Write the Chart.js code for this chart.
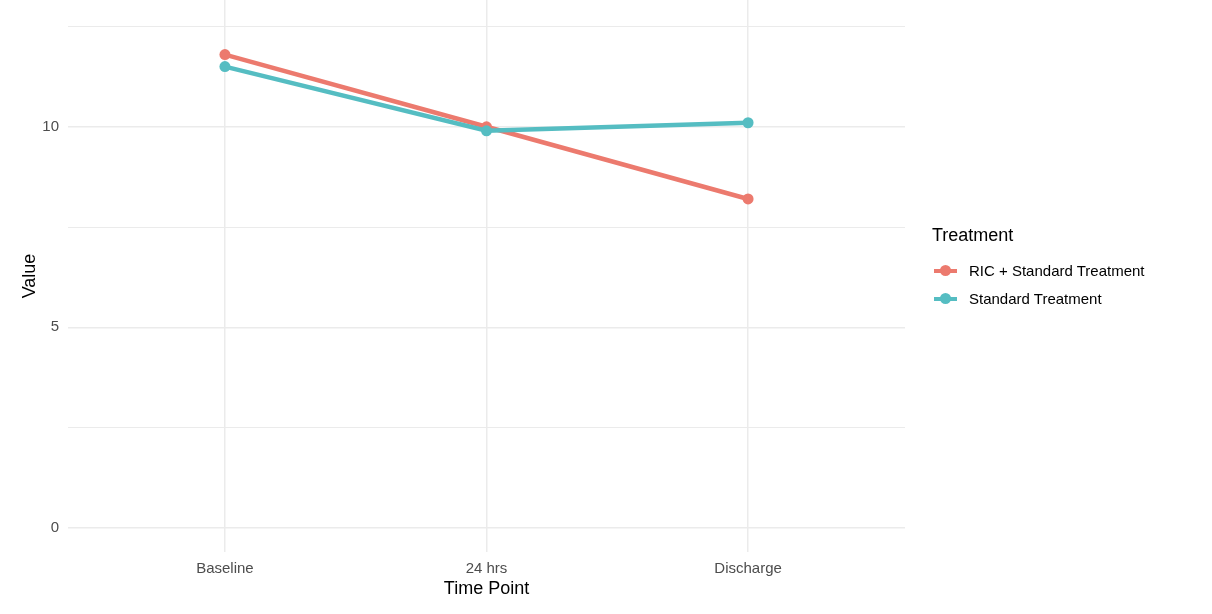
<!DOCTYPE html>
<html>
<head>
    <title>Treatment over time</title>
    <script src="https://cdn.jsdelivr.net/npm/chart.js"></script>
    <style>
        body { margin: 0; background: #fff; font-family: "Liberation Sans", Arial, sans-serif; }
        .wrap { position: relative; width: 1212px; height: 614px; }
        .legend { position: absolute; left: 932px; top: 225px; }
        .legend .title { font-size: 18px; color: #000; margin-bottom: 11px; }
        .legend .item { position: relative; height: 28px; line-height: 28px; font-size: 15px; color: #000; padding-left: 37px; }
        .legend .key { position: absolute; left: 2px; top: 12px; width: 23px; height: 4px; }
        .legend .dot { position: absolute; left: 6px; top: -4px; width: 11px; height: 11px; border-radius: 50%; }
    </style>
</head>
<body>
<div class="wrap">
    <canvas id="chart" width="1212" height="614"></canvas>
    <div class="legend" id="legend"></div>
</div>
<script>
// 데이터
const timePoints = ['Baseline', '24 hrs', 'Discharge'];
const ricValues = [11.8, 10.0, 8.2];
const standardValues = [11.5, 9.9, 10.1];
const seriesNames = ['RIC + Standard Treatment', 'Standard Treatment'];
const seriesColors = ['#EC7A6E', '#55BDC2'];
const yTicks = [0, 2.5, 5, 7.5, 10, 12.5];

const toPoints = vals => vals.map((v, i) => ({ x: i + 1, y: v }));

// HTML 범례
const legend = document.getElementById('legend');
legend.innerHTML = '<div class="title">Treatment</div>' + seriesNames.map((name, i) =>
    `<div class="item"><span class="key" style="background:${seriesColors[i]}"><span class="dot" style="background:${seriesColors[i]}"></span></span>${name}</div>`
).join('');

const font = '"Liberation Sans", Arial, sans-serif';

// 축 여백 제거 (차트 영역을 캔버스 위쪽 끝까지)
const noPad = axis => {
    axis.paddingTop = 0;
    axis.paddingBottom = 0;
    axis.paddingLeft = 0;
    axis.paddingRight = 0;
};

new Chart(document.getElementById('chart'), {
    type: 'line',
    data: {
        datasets: [
            {
                label: seriesNames[0],
                data: toPoints(ricValues),
                borderColor: seriesColors[0],
                backgroundColor: seriesColors[0],
                borderWidth: 4.5,
                pointRadius: 5.5,
                pointBorderWidth: 0,
                order: 1
            },
            {
                label: seriesNames[1],
                data: toPoints(standardValues),
                borderColor: seriesColors[1],
                backgroundColor: seriesColors[1],
                borderWidth: 4.5,
                pointRadius: 5.5,
                pointBorderWidth: 0,
                order: 0
            }
        ]
    },
    options: {
        responsive: false,
        animation: false,
        layout: { autoPadding: false, padding: { left: 0, right: 307, top: 0, bottom: 0 } },
        plugins: {
            legend: { display: false },
            tooltip: { enabled: false }
        },
        scales: {
            x: {
                type: 'linear',
                min: 0.4,
                max: 3.6,
                afterBuildTicks: axis => { axis.ticks = timePoints.map((_, i) => ({ value: i + 1 })); },
                afterFit: axis => { axis.height = 62; noPad(axis); },
                border: { display: false },
                grid: { color: '#ebebeb', lineWidth: 1.5, drawTicks: false },
                ticks: {
                    padding: 8,
                    color: '#4d4d4d',
                    font: { family: font, size: 15 },
                    callback: v => timePoints[v - 1] || ''
                },
                title: {
                    display: true,
                    text: 'Time Point',
                    color: '#000',
                    font: { family: font, size: 18 },
                    padding: { top: 0, bottom: 14 }
                }
            },
            y: {
                type: 'linear',
                min: -0.6,
                max: 13.16,
                afterBuildTicks: axis => { axis.ticks = yTicks.map(v => ({ value: v })); },
                afterFit: axis => { axis.width = 68; noPad(axis); },
                border: { display: false },
                grid: {
                    color: '#ebebeb',
                    lineWidth: ctx => (ctx.tick && ctx.tick.value % 5 === 0) ? 1.5 : 1,
                    drawTicks: false
                },
                ticks: {
                    padding: 9,
                    color: '#4d4d4d',
                    font: { family: font, size: 15 },
                    callback: v => (v % 5 === 0 ? v : '')
                },
                title: {
                    display: true,
                    text: 'Value',
                    color: '#000',
                    font: { family: font, size: 18 },
                    padding: { top: 19, bottom: 0 }
                }
            }
        }
    }
});
</script>
</body>
</html>
